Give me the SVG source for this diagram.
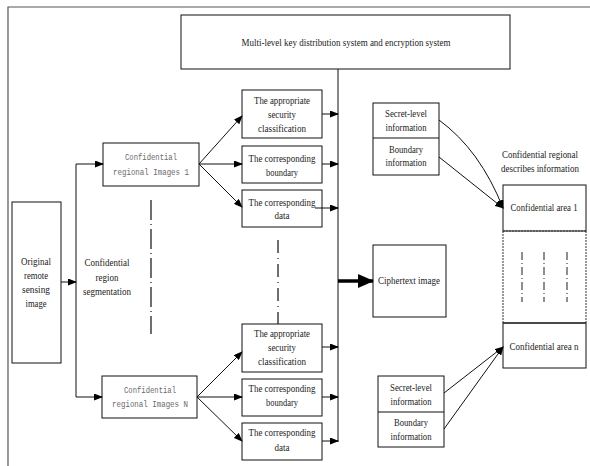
<svg xmlns="http://www.w3.org/2000/svg" width="590" height="466" viewBox="0 0 590 466">
<defs>
<style>
.b{fill:#fff;stroke:#111;stroke-width:1}
.t{font-family:"Liberation Serif","Times New Roman",serif;font-size:10.5px;fill:#222;text-anchor:middle}
.s{font-size:9.5px}
.m{font-family:"Liberation Mono","Courier New",monospace;font-size:9.5px;fill:#6a6a6a;text-anchor:middle}
.c{fill:none;stroke:#111;stroke-width:1}
.dd{fill:none;stroke:#222;stroke-width:1.3}
</style>
<marker id="ah" markerWidth="9" markerHeight="7" refX="8" refY="3.5" orient="auto" markerUnits="userSpaceOnUse">
<path d="M0,0 L9,3.5 L0,7 Z" fill="#000"/>
</marker>
<marker id="ahb" markerWidth="16" markerHeight="14" refX="15" refY="7" orient="auto" markerUnits="userSpaceOnUse">
<path d="M0,0 L16,7 L0,14 Z" fill="#000"/>
</marker>
</defs>
<rect width="590" height="466" fill="#fff"/>
<!-- frame -->
<path d="M8,466 V7 H590" fill="none" stroke="#555" stroke-width="1.2"/>

<g id="keysystem">
<rect class="b" x="181" y="15" width="329" height="54"/>
<text class="t" x="346" y="46" textLength="209" lengthAdjust="spacingAndGlyphs">Multi-level key distribution system and encryption system</text>
</g>

<g id="original">
<rect class="b" x="12" y="202" width="49" height="161"/>
<text class="t" x="36" y="265" textLength="30" lengthAdjust="spacingAndGlyphs">Original</text>
<text class="t" x="36" y="279" textLength="24" lengthAdjust="spacingAndGlyphs">remote</text>
<text class="t" x="36" y="293" textLength="28" lengthAdjust="spacingAndGlyphs">sensing</text>
<text class="t" x="36" y="307" textLength="21" lengthAdjust="spacingAndGlyphs">image</text>
</g>

<g id="segLabel">
<text class="t" x="107" y="266" textLength="45" lengthAdjust="spacingAndGlyphs">Confidential</text>
<text class="t" x="107" y="281" textLength="23" lengthAdjust="spacingAndGlyphs">region</text>
<text class="t" x="107" y="295" textLength="48" lengthAdjust="spacingAndGlyphs">segmentation</text>
</g>

<g id="images1">
<rect class="b" x="103" y="143" width="96" height="43"/>
<text class="m" x="151" y="160" textLength="52" lengthAdjust="spacingAndGlyphs">Confidential</text>
<text class="m" x="151" y="175" textLength="76" lengthAdjust="spacingAndGlyphs">regional Images 1</text>
</g>

<g id="imagesN">
<rect class="b" x="102" y="376" width="95" height="42"/>
<text class="m" x="150" y="393" textLength="52" lengthAdjust="spacingAndGlyphs">Confidential</text>
<text class="m" x="150" y="407" textLength="76" lengthAdjust="spacingAndGlyphs">regional Images N</text>
</g>

<g id="class1">
<rect class="b" x="242" y="90" width="80" height="48"/>
<text class="t" x="282" y="104" textLength="56" lengthAdjust="spacingAndGlyphs">The appropriate</text>
<text class="t" x="282" y="118" textLength="28" lengthAdjust="spacingAndGlyphs">security</text>
<text class="t" x="282" y="132" textLength="48" lengthAdjust="spacingAndGlyphs">classification</text>
</g>
<g id="boundary1">
<rect class="b" x="242" y="146" width="80" height="37"/>
<text class="t" x="282" y="162" textLength="67" lengthAdjust="spacingAndGlyphs">The corresponding</text>
<text class="t" x="282" y="176" textLength="32" lengthAdjust="spacingAndGlyphs">boundary</text>
</g>
<g id="data1">
<rect class="b" x="242" y="190" width="80" height="37"/>
<text class="t" x="282" y="206" textLength="67" lengthAdjust="spacingAndGlyphs">The corresponding</text>
<text class="t" x="282" y="219" textLength="15" lengthAdjust="spacingAndGlyphs">data</text>
</g>

<g id="classN">
<rect class="b" x="242" y="324" width="80" height="48"/>
<text class="t" x="282" y="337" textLength="56" lengthAdjust="spacingAndGlyphs">The appropriate</text>
<text class="t" x="282" y="351" textLength="28" lengthAdjust="spacingAndGlyphs">security</text>
<text class="t" x="282" y="365" textLength="48" lengthAdjust="spacingAndGlyphs">classification</text>
</g>
<g id="boundaryN">
<rect class="b" x="242" y="379" width="80" height="37"/>
<text class="t" x="282" y="392" textLength="67" lengthAdjust="spacingAndGlyphs">The corresponding</text>
<text class="t" x="282" y="406" textLength="32" lengthAdjust="spacingAndGlyphs">boundary</text>
</g>
<g id="dataN">
<rect class="b" x="242" y="423" width="80" height="37"/>
<text class="t" x="282" y="436" textLength="67" lengthAdjust="spacingAndGlyphs">The corresponding</text>
<text class="t" x="282" y="451" textLength="15" lengthAdjust="spacingAndGlyphs">data</text>
</g>

<g id="cipher">
<rect class="b" x="373" y="245" width="73" height="72"/>
<text class="t" x="409" y="284" textLength="62" lengthAdjust="spacingAndGlyphs">Ciphertext image</text>
</g>

<g id="info1">
<rect class="b" x="373" y="103" width="66" height="72"/>
<line class="c" x1="373" y1="138" x2="439" y2="138"/>
<text class="t" x="406" y="117" textLength="42" lengthAdjust="spacingAndGlyphs">Secret-level</text>
<text class="t" x="406" y="131" textLength="41" lengthAdjust="spacingAndGlyphs">information</text>
<text class="t" x="406" y="153" textLength="34" lengthAdjust="spacingAndGlyphs">Boundary</text>
<text class="t" x="406" y="166" textLength="41" lengthAdjust="spacingAndGlyphs">information</text>
</g>

<g id="infoN">
<rect class="b" x="378" y="376" width="66" height="71"/>
<line class="c" x1="378" y1="412" x2="444" y2="412"/>
<text class="t" x="411" y="391" textLength="42" lengthAdjust="spacingAndGlyphs">Secret-level</text>
<text class="t" x="411" y="405" textLength="41" lengthAdjust="spacingAndGlyphs">information</text>
<text class="t" x="411" y="426" textLength="34" lengthAdjust="spacingAndGlyphs">Boundary</text>
<text class="t" x="411" y="440" textLength="41" lengthAdjust="spacingAndGlyphs">information</text>
</g>

<g id="descLabel">
<text class="t s" x="540" y="158" textLength="76" lengthAdjust="spacingAndGlyphs">Confidential regional</text>
<text class="t s" x="540" y="172" textLength="78" lengthAdjust="spacingAndGlyphs">describes information</text>
</g>

<g id="areas">
<rect class="b" x="503" y="185" width="83" height="46"/>
<text class="t" x="544" y="211" textLength="67" lengthAdjust="spacingAndGlyphs">Confidential area 1</text>
<path d="M503,231 V323 M586,231 V323 M503,231 H586" fill="none" stroke="#333" stroke-width="1" stroke-dasharray="2 1"/>
<rect class="b" x="503" y="323" width="83" height="45"/>
<line x1="503" y1="323" x2="586" y2="323" stroke="#333" stroke-width="1.6"/>
<text class="t" x="544" y="350" textLength="69" lengthAdjust="spacingAndGlyphs">Confidential area n</text>
<path d="M522,252 V302 M544,252 V302 M567,252 V302" fill="none" stroke="#444" stroke-width="1.2" style="stroke-dasharray:8 3 1 3"/>
</g>

<g id="connectors">
<!-- dash-dot ellipsis lines -->
<path class="dd" d="M151,200 V334" style="stroke-dasharray:20 4 1 4"/>
<path class="dd" d="M278,240 V324" style="stroke-dasharray:13 5 1 5"/>
<!-- original to split -->
<line class="c" x1="61" y1="282" x2="76" y2="282" marker-end="url(#ah)"/>
<line class="c" x1="76" y1="164" x2="76" y2="397"/>
<line class="c" x1="76" y1="164" x2="103" y2="164" marker-end="url(#ah)"/>
<line class="c" x1="76" y1="397" x2="102" y2="397" marker-end="url(#ah)"/>
<!-- fan out 1 -->
<line class="c" x1="199" y1="164" x2="242" y2="116" marker-end="url(#ah)"/>
<line class="c" x1="199" y1="164" x2="242" y2="164" marker-end="url(#ah)"/>
<line class="c" x1="199" y1="164" x2="242" y2="207" marker-end="url(#ah)"/>
<!-- fan out N -->
<line class="c" x1="197" y1="397" x2="242" y2="352" marker-end="url(#ah)"/>
<line class="c" x1="197" y1="397" x2="242" y2="397" marker-end="url(#ah)"/>
<line class="c" x1="197" y1="397" x2="242" y2="441" marker-end="url(#ah)"/>
<!-- bus -->
<line class="c" x1="338" y1="69" x2="338" y2="442" stroke-width="1.3"/>
<line class="c" x1="322" y1="114" x2="338" y2="114" marker-end="url(#ah)"/>
<line class="c" x1="322" y1="164" x2="338" y2="164" marker-end="url(#ah)"/>
<line class="c" x1="315" y1="208" x2="338" y2="208" marker-end="url(#ah)"/>
<line class="c" x1="322" y1="347" x2="338" y2="347" marker-end="url(#ah)"/>
<line class="c" x1="322" y1="397" x2="338" y2="397" marker-end="url(#ah)"/>
<line class="c" x1="322" y1="441" x2="338" y2="441" marker-end="url(#ah)"/>
<!-- to ciphertext -->
<line x1="338" y1="281" x2="373" y2="281" stroke="#000" stroke-width="3.5" marker-end="url(#ahb)"/>
<!-- info to areas -->
<path class="c" d="M439,120 Q480,150 503,208" marker-end="url(#ah)"/>
<line class="c" x1="439" y1="157" x2="503" y2="208" marker-end="url(#ah)"/>
<line class="c" x1="444" y1="393" x2="503" y2="347" marker-end="url(#ah)"/>
<line class="c" x1="444" y1="429" x2="503" y2="347" marker-end="url(#ah)"/>
</g>
</svg>
